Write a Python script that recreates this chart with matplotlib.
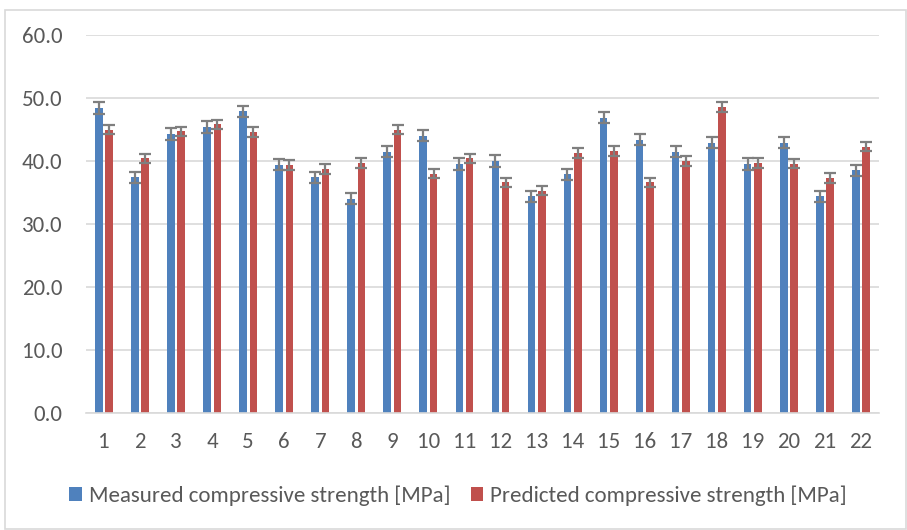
import matplotlib
matplotlib.use('Agg')
import matplotlib.pyplot as plt
from matplotlib.patches import Rectangle
import numpy as np

plt.rcParams['font.family'] = ['Carlito', 'DejaVu Sans']

samples = [str(i) for i in range(1, 23)]
measured = [48.4, 37.4, 44.3, 45.4, 47.9, 39.4, 37.4, 34.0, 41.5, 44.0, 39.5,
            40.0, 34.4, 37.9, 46.9, 43.4, 41.5, 42.9, 39.5, 42.9, 34.4, 38.5]
predicted = [45.0, 40.4, 44.7, 45.8, 44.6, 39.4, 38.7, 39.7, 45.0, 38.0, 40.4,
             36.6, 35.3, 41.3, 41.6, 36.6, 40.0, 48.6, 39.7, 39.6, 37.3, 42.3]
measured_err = 0.9
predicted_err = 0.75

fig = plt.figure(figsize=(9.07, 5.30), dpi=100)
ax = fig.add_axes([86 / 907, 1 - 413 / 530, 793 / 907, 378 / 530])

x = np.arange(1, len(samples) + 1)
w = 0.21
ekw = dict(ecolor='#7f7f7f', elinewidth=1.6, capsize=4.4, capthick=1.6)
ax.bar(x - 0.143, measured, w, color='#4F81BD', yerr=measured_err,
       error_kw=ekw, label='Measured compressive strength [MPa]', zorder=2)
ax.bar(x + 0.143, predicted, w, color='#C0504D', yerr=predicted_err,
       error_kw=ekw, label='Predicted compressive strength [MPa]', zorder=2)

ax.set_xlim(0.5, 22.5)
ax.set_ylim(0, 60)
ax.set_yticks(np.arange(0, 61, 10))
ax.set_yticklabels(['%.1f' % v for v in np.arange(0, 61, 10)])
ax.set_xticks(x)
ax.set_xticklabels(samples)
ax.yaxis.grid(True, color='#D9D9D9', linewidth=1.2, zorder=0)
ax.set_axisbelow(True)
for s in ['top', 'right', 'left']:
    ax.spines[s].set_visible(False)
ax.spines['bottom'].set_color('#D9D9D9')
ax.spines['bottom'].set_linewidth(1.2)
ax.tick_params(axis='both', length=0, colors='#595959', labelsize=16.5)
ax.tick_params(axis='y', pad=17)
ax.tick_params(axis='x', pad=14)

ax.legend(loc='center', bbox_to_anchor=(458 / 907, 1 - 496 / 530),
          bbox_transform=fig.transFigure, ncol=2, frameon=False,
          fontsize=16.5, labelcolor='#595959', handlelength=0.55,
          handleheight=0.6, handletextpad=0.3, columnspacing=0.9,
          borderpad=0, borderaxespad=0)

# light frame round the whole chart
fig.patches.append(Rectangle((5 / 907, 1 / 530), 901 / 907, 519 / 530,
                             transform=fig.transFigure, fill=False,
                             edgecolor='#D9D9D9', linewidth=1.2))

fig.savefig('out.png', dpi=100)
